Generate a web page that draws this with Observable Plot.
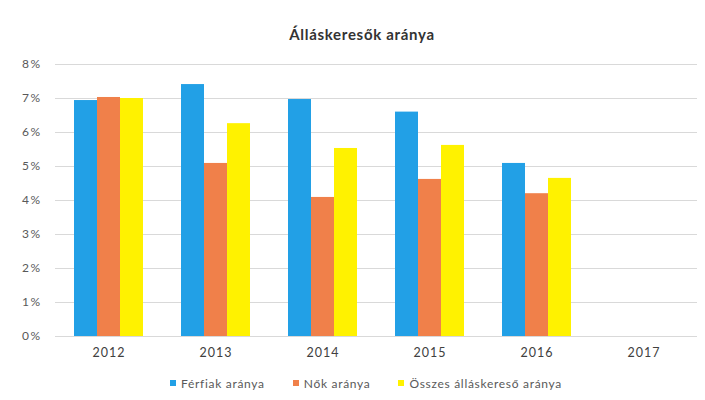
<!DOCTYPE html>
<html>
<head>
<meta charset="utf-8">
<script src="https://cdn.jsdelivr.net/npm/d3@7"></script>
<script src="https://cdn.jsdelivr.net/npm/@observablehq/plot@0.6"></script>
<style>
  html, body { margin: 0; padding: 0; background: #fff; }
  body { width: 705px; height: 400px; overflow: hidden; font-family: Lato, "Open Sans", sans-serif; }
  #title { height: 50px; box-sizing: border-box; padding-top: 25px; padding-left: 19px; text-align: center; font-size: 15px; letter-spacing: 0.7px; font-weight: bold; color: #333; line-height: 18px; }
  #legend { height: 34px; display: flex; justify-content: center; align-items: center; padding-left: 27px; font-size: 12px; letter-spacing: 0.7px; color: #595959; }
  #legend .item { display: flex; align-items: center; margin: 0 14px; }
  #legend .sw { width: 6px; height: 6px; margin-right: 5px; }
  svg { display: block; }
</style>
</head>
<body>
<div id="title">Álláskeresők aránya</div>
<div id="chart"></div>
<div id="legend"></div>
<script>
const years = ["2012", "2013", "2014", "2015", "2016", "2017"];
const seriesNames = ["Férfiak aránya", "Nők aránya", "Összes álláskereső aránya"];
const men = [6.94, 7.41, 6.97, 6.60, 5.09, null];
const women = [7.03, 5.09, 4.09, 4.62, 4.20, null];
const total = [7.00, 6.26, 5.53, 5.62, 4.65, null];
const colors = ["#22a0e6", "#f0804a", "#fff200"];
const yTicks = [0, 1, 2, 3, 4, 5, 6, 7, 8];

const valuesBySeries = [men, women, total];
const rows = [];
years.forEach((yr, i) => {
  seriesNames.forEach((s, j) => {
    const v = valuesBySeries[j][i];
    if (v != null) rows.push({year: yr, series: s, value: v});
  });
});
// gridlines for every year panel (so the empty 2017 panel is drawn too)
const gridRows = years.flatMap(yr => yTicks.map(t => ({year: yr, t})));

const chart = Plot.plot({
  width: 705,
  height: 316,
  marginLeft: 54,
  marginRight: 7,
  marginTop: 14,
  marginBottom: 30,
  style: {fontFamily: "Lato, 'Open Sans', sans-serif", background: "#fff", fontSize: "12px"},
  fx: {domain: years, padding: 0, label: null, axis: "bottom", tickSize: 0, tickPadding: 12},
  x: {domain: seriesNames, paddingInner: 0, paddingOuter: 0.767, axis: null},
  y: {domain: [0, 8], axis: null},
  color: {domain: seriesNames, range: colors},
  marks: [
    Plot.ruleY(gridRows, {fx: "year", y: "t", stroke: "#d9d9d9", strokeWidth: 1}),
    Plot.axisY(yTicks, {tickFormat: d => d + "%", tickSize: 0, tickPadding: 14, fill: "#595959", fontSize: 12, label: null}),
    Plot.barY(rows, {fx: "year", x: "series", y: "value", fill: "series"})
  ]
});
chart.querySelectorAll("g[aria-label='fx-axis tick label']").forEach(g => {
  g.setAttribute("fill", "#404040");
  g.setAttribute("font-size", "12.5");
  g.setAttribute("letter-spacing", "1");
});
chart.querySelectorAll("g[aria-label='y-axis tick label']").forEach(g => {
  g.setAttribute("letter-spacing", "1.5");
});
document.getElementById("chart").appendChild(chart);

const legend = document.getElementById("legend");
seriesNames.forEach((s, i) => {
  const item = document.createElement("div");
  item.className = "item";
  const sw = document.createElement("span");
  sw.className = "sw";
  sw.style.background = colors[i];
  const t = document.createElement("span");
  t.textContent = s;
  item.appendChild(sw);
  item.appendChild(t);
  legend.appendChild(item);
});
</script>
</body>
</html>
